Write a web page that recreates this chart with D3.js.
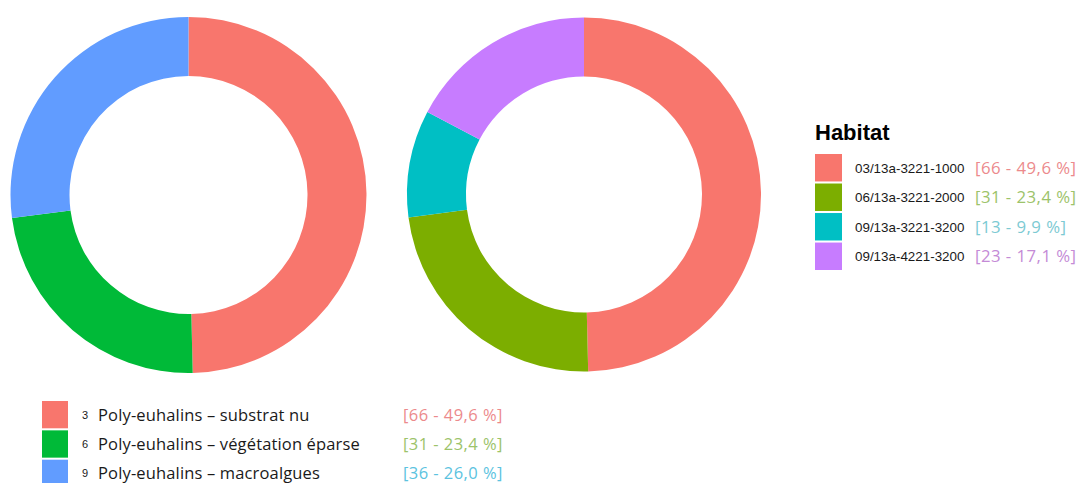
<!DOCTYPE html>
<html>
<head>
<meta charset="utf-8">
<script src="https://cdn.jsdelivr.net/npm/d3@7"></script>
<style>
  html, body { margin: 0; padding: 0; background: #fff; }
  svg { display: block; }
</style>
</head>
<body>
<svg id="chart" width="1083" height="483"></svg>
<script>
// Left ring: habitat groups
const groupCodes = ["3", "6", "9"];
const groupNames = ["Poly-euhalins – substrat nu", "Poly-euhalins – végétation éparse", "Poly-euhalins – macroalgues"];
const groupCounts = [66, 31, 36];
const groupPercents = ["49,6", "23,4", "26,0"];

// Right ring: habitat codes
const habitatCodes = ["03/13a-3221-1000", "06/13a-3221-2000", "09/13a-3221-3200", "09/13a-4221-3200"];
const habitatCounts = [66, 31, 13, 23];
const habitatPercents = ["49,6", "23,4", "9,9", "17,1"];

const groupFill = ["#F8766D", "#00BA38", "#619CFF"];
const groupText = ["#EC8A8C", "#9CC36A", "#5BC3E0"];
const habitatFill = ["#F8766D", "#7CAE00", "#00BFC4", "#C77CFF"];
const habitatText = ["#EC8A8C", "#9CC36A", "#7CCAD3", "#C48BD6"];

const svg = d3.select("#chart");

const pie = d3.pie().sort(null).value(d => d.count);

function ring(cx, cy, rOuter, rInner, counts, fills) {
  const data = counts.map((c, i) => ({ count: c, fill: fills[i] }));
  const arc = d3.arc().innerRadius(rInner).outerRadius(rOuter);
  svg.append("g")
    .attr("transform", `translate(${cx},${cy})`)
    .selectAll("path")
    .data(pie(data))
    .join("path")
    .attr("d", arc)
    .attr("fill", d => d.data.fill);
}

ring(188.5, 195, 178, 119, groupCounts, groupFill);
ring(584, 194.5, 177, 118, habitatCounts, habitatFill);

const textFont = "'Open Sans', sans-serif";

// Right legend
const legR = svg.append("g");
legR.append("text")
  .attr("x", 815).attr("y", 140)
  .attr("font-family", "Liberation Sans, Arial, sans-serif")
  .attr("font-weight", "bold")
  .attr("font-size", 22)
  .attr("fill", "#000")
  .text("Habitat");

const yR = d3.scaleBand().domain(d3.range(habitatCodes.length)).range([154, 270]).paddingInner(0.07);
habitatCodes.forEach((code, i) => {
  const y0 = yR(i);
  const h = yR.bandwidth();
  legR.append("rect")
    .attr("x", 815).attr("y", y0).attr("width", 27).attr("height", h)
    .attr("fill", habitatFill[i]);
  legR.append("text")
    .attr("x", 855).attr("y", y0 + h / 2)
    .attr("dy", "0.36em")
    .attr("font-family", "Liberation Sans, Arial, sans-serif")
    .attr("font-size", 13.4)
    .attr("fill", "#1a1a1a")
    .text(code);
  legR.append("text")
    .attr("x", 975).attr("y", y0 + h / 2)
    .attr("dy", "0.36em")
    .attr("font-family", textFont)
    .attr("font-size", 16.8)
    .attr("letter-spacing", 0.45)
    .attr("fill", habitatText[i])
    .text(`[${habitatCounts[i]} - ${habitatPercents[i]} %]`);
});

// Bottom legend
const legB = svg.append("g");
const yB = d3.scaleBand().domain(d3.range(groupCodes.length)).range([401, 487]).paddingInner(0.07);
groupCodes.forEach((code, i) => {
  const y0 = yB(i);
  const h = yB.bandwidth();
  const cy = y0 + h / 2;
  legB.append("rect")
    .attr("x", 42).attr("y", y0).attr("width", 26).attr("height", h)
    .attr("fill", groupFill[i]);
  legB.append("text")
    .attr("x", 82).attr("y", cy)
    .attr("dy", "0.36em")
    .attr("font-family", "Liberation Sans, Arial, sans-serif")
    .attr("font-size", 11)
    .attr("fill", "#1a1a1a")
    .text(code);
  legB.append("text")
    .attr("x", 98).attr("y", cy)
    .attr("dy", "0.36em")
    .attr("font-family", textFont)
    .attr("font-size", 16.5)
    .attr("letter-spacing", 0.15)
    .attr("fill", "#1a1a1a")
    .text(groupNames[i]);
  legB.append("text")
    .attr("x", 403).attr("y", cy)
    .attr("dy", "0.36em")
    .attr("font-family", textFont)
    .attr("font-size", 16.5)
    .attr("letter-spacing", 0.45)
    .attr("fill", groupText[i])
    .text(`[${groupCounts[i]} - ${groupPercents[i]} %]`);
});
</script>
</body>
</html>
